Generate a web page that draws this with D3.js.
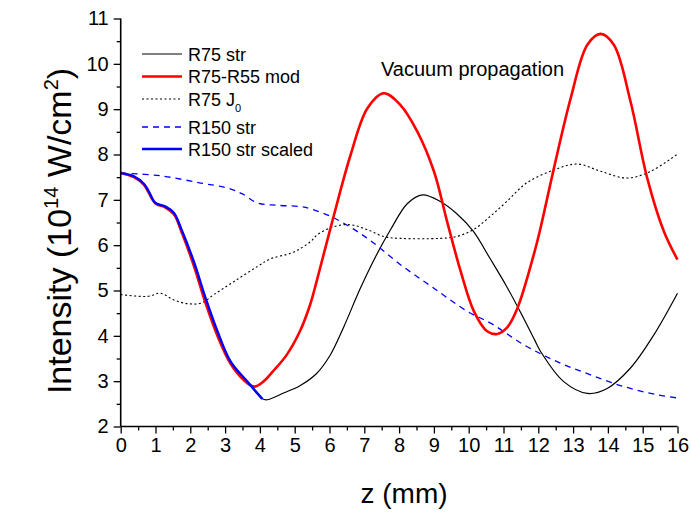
<!DOCTYPE html>
<html><head><meta charset="utf-8">
<script src="https://cdn.jsdelivr.net/npm/d3@7"></script>
<style>body{margin:0;background:#fff}svg{display:block;font-family:"Liberation Sans",Arial,sans-serif}</style>
</head><body><svg id="c" width="691" height="515"></svg>
<script>
// ---- data ----
const xTicks = d3.range(0, 17, 1);
const yTicks = d3.range(2, 12, 1);

const strZ   = [0,0.38,0.67,0.81,1.0,1.29,1.53,1.77,2.1,2.44,2.78,3.16,3.64,4.07,4.21,4.68,5.15,5.63,6.01,6.4,6.87,7.28,7.76,8.24,8.67,9.17,9.65,10.13,10.61,11.09,11.57,11.9,12.07,12.73,13.41,13.98,14.65,15.32,16];
const strI   = [7.59,7.52,7.35,7.18,6.93,6.85,6.71,6.30,5.64,4.83,4.10,3.43,2.99,2.61,2.59,2.74,2.90,3.17,3.56,4.18,5.02,5.68,6.35,6.92,7.11,6.97,6.70,6.31,5.71,5.09,4.40,3.90,3.65,2.99,2.73,2.84,3.29,4.02,4.94];

const modZ   = [0,0.38,0.67,0.81,1.0,1.29,1.53,1.77,2.1,2.44,2.78,3.16,3.5,3.83,4.1,4.38,4.77,5.15,5.44,5.63,6.13,6.61,7.09,7.56,8.04,8.52,9.0,9.38,9.77,10.15,10.53,10.82,11.1,11.4,11.87,12.04,12.45,12.93,13.41,13.79,14.17,14.65,15.13,15.61,16];
const modI   = [7.6,7.5,7.33,7.15,6.92,6.83,6.68,6.25,5.55,4.72,4.0,3.38,3.05,2.88,2.99,3.22,3.58,4.10,4.68,5.2,6.67,8.0,9.02,9.35,9.09,8.51,7.63,6.52,5.42,4.54,4.10,4.04,4.18,4.61,5.79,6.3,7.70,9.24,10.42,10.66,10.42,9.17,7.48,6.30,5.68];

const j0Z    = [0,0.77,1.15,1.53,1.92,2.3,2.68,3.26,3.93,4.31,4.88,5.17,5.46,5.65,6.13,6.61,7.09,7.56,8.04,9.17,9.65,10.13,10.61,11.09,11.66,12.45,13.12,13.79,14.56,15.23,16];
const j0I    = [4.91,4.87,4.94,4.79,4.71,4.72,4.91,5.2,5.53,5.70,5.82,5.93,6.08,6.23,6.41,6.45,6.34,6.19,6.15,6.15,6.19,6.34,6.63,6.96,7.37,7.66,7.79,7.63,7.48,7.63,8.01];

const r150Z  = [0,1.15,2.3,3.07,3.5,3.93,4.5,5.17,5.46,6.13,7.09,8.04,9.0,9.96,10.63,11.59,12.54,13.5,14.46,15.42,16];
const r150I  = [7.59,7.53,7.37,7.26,7.13,6.93,6.88,6.85,6.80,6.6,6.15,5.57,5.05,4.54,4.28,3.8,3.43,3.14,2.88,2.70,2.63];

const scaledZ = [0,0.38,0.67,0.81,1.0,1.29,1.53,1.77,2.1,2.44,2.78,3.16,3.64,4.07];
const scaledI = [7.59,7.52,7.35,7.18,6.93,6.85,6.71,6.30,5.64,4.83,4.10,3.43,2.99,2.61];

const seriesNames = ["R75 str","R75-R55 mod","R75 J","R150 str","R150 str scaled"];

// ---- chart ----
const svg = d3.select("#c");
const x = d3.scaleLinear().domain([0,16]).range([120.7,677.5]);
const y = d3.scaleLinear().domain([2,11]).range([426.5,18.5]);

const styles = [
  {z:strZ, v:strI, color:"#000", w:1.2, dash:null},
  {z:r150Z, v:r150I, color:"#0000ff", w:1.3, dash:"6,5"},
  {z:j0Z, v:j0I, color:"#000", w:1.1, dash:"2,2.5"},
  {z:modZ, v:modI, color:"#ff0000", w:2.6, dash:null},
  {z:scaledZ, v:scaledI, color:"#0000ff", w:2.4, dash:null}
];
const line = d3.line().x(d=>x(d[0])).y(d=>y(d[1])).curve(d3.curveCatmullRom.alpha(0.5));
styles.forEach(s=>{
  svg.append("path").datum(s.z.map((z,i)=>[z,s.v[i]]))
    .attr("d",line).attr("fill","none").attr("stroke",s.color)
    .attr("stroke-width",s.w).attr("stroke-dasharray",s.dash)
    .attr("stroke-linejoin","round");
});

// axes
const xAxis = d3.axisBottom(x).tickValues(xTicks).tickFormat(d3.format("d")).tickSize(7).tickPadding(4);
const xMinor = d3.axisBottom(x).tickValues(d3.range(0.5,16,1)).tickFormat("").tickSize(4);
const yAxis = d3.axisLeft(y).tickValues(yTicks).tickFormat(d3.format("d")).tickSize(7).tickPadding(5);
const yMinor = d3.axisLeft(y).tickValues(d3.range(2.5,11,1)).tickFormat("").tickSize(4);

function styleAxis(g){
  g.select(".domain").attr("stroke","#000").attr("stroke-width",1.6);
  g.selectAll(".tick line").attr("stroke","#000").attr("stroke-width",1.3);
  g.selectAll(".tick text").attr("fill","#000").style("font-size","20px").style("font-family","Liberation Sans, Arial, sans-serif");
}
const gx = svg.append("g").attr("transform",`translate(0,${y(2)})`).call(xAxis).call(styleAxis);
svg.append("g").attr("transform",`translate(0,${y(2)})`).call(xMinor).call(styleAxis).select(".domain").remove();
const gy = svg.append("g").attr("transform",`translate(${x(0)},0)`).call(yAxis).call(styleAxis);
svg.append("g").attr("transform",`translate(${x(0)},0)`).call(yMinor).call(styleAxis).select(".domain").remove();
gx.selectAll(".domain").attr("d",`M${x(0)},0H${x(16)}`);
gy.selectAll(".domain").attr("d",`M0,${y(2)}V${y(11)}`);

// axis titles
svg.append("text").attr("x",404).attr("y",503).attr("text-anchor","middle")
  .style("font-size","28px").text("z (mm)");
const yt = svg.append("text").attr("transform",`translate(71,231) rotate(-90)`)
  .attr("text-anchor","middle").style("font-size","34px");
yt.append("tspan").text("Intensity (10");
yt.append("tspan").attr("dy",-13).style("font-size","20px").text("14");
yt.append("tspan").attr("dy",13).text(" W/cm");
yt.append("tspan").attr("dy",-13).style("font-size","20px").text("2");
yt.append("tspan").attr("dy",13).text(")");

// annotation
svg.append("text").attr("x",381).attr("y",76).style("font-size","20px").text("Vacuum propagation");

// legend
const legRows = [
  {name:seriesNames[0], ly:54, s:styles[0]},
  {name:seriesNames[1], ly:76.5, s:styles[3]},
  {name:seriesNames[2], ly:99, s:styles[2], sub:"0"},
  {name:seriesNames[3], ly:127, s:styles[1]},
  {name:seriesNames[4], ly:149, s:styles[4]}
];
legRows.forEach(r=>{
  svg.append("line").attr("x1",142).attr("x2",182).attr("y1",r.ly).attr("y2",r.ly)
    .attr("stroke",r.s.color).attr("stroke-width",r.s.w).attr("stroke-dasharray",r.s.dash);
  const t = svg.append("text").attr("x",188).attr("y",r.ly+6.5).style("font-size","18px").text(r.name);
  if(r.sub) t.append("tspan").attr("dy",6).style("font-size","11px").text(r.sub);
});
</script></body></html>
